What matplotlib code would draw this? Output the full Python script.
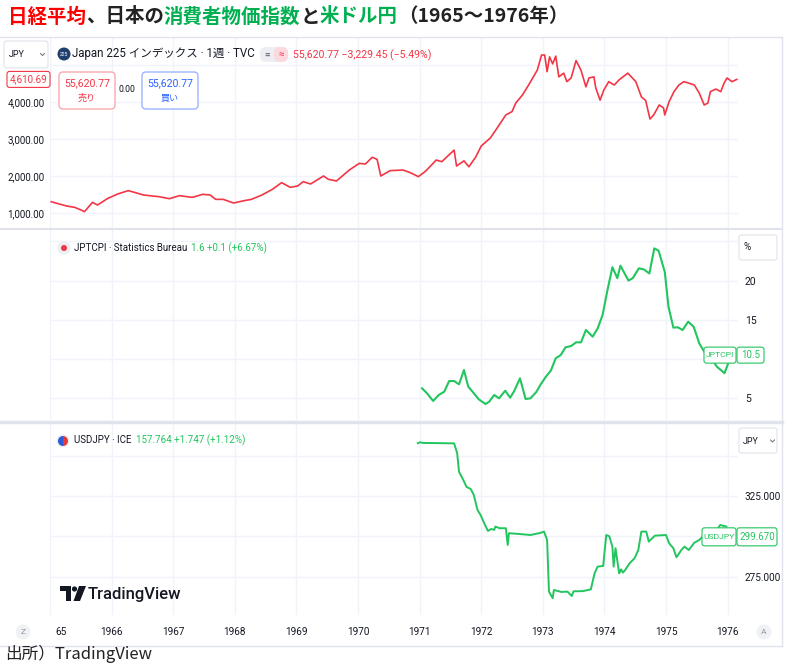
import matplotlib
matplotlib.use('Agg')
import matplotlib.pyplot as plt
import matplotlib.transforms as mtransforms
from matplotlib.patches import FancyBboxPatch, Circle, Polygon, Wedge

plt.rcParams['font.family'] = ['Roboto', 'Noto Sans CJK JP', 'DejaVu Sans']
JP = ['Noto Sans CJK JP', 'DejaVu Sans']

# ---- data ----
nk_year = [1965.02, 1965.15, 1965.27, 1965.40, 1965.48, 1965.56, 1965.69, 1965.77, 1965.94,
           1966.10, 1966.27, 1966.37, 1966.52, 1966.77, 1966.94, 1967.10, 1967.31, 1967.48,
           1967.60, 1967.69, 1967.81, 1967.98, 1968.15, 1968.27, 1968.44, 1968.61, 1968.76,
           1968.90, 1969.02, 1969.11, 1969.23, 1969.44, 1969.52, 1969.65, 1969.86, 1970.02,
           1970.12, 1970.23, 1970.31, 1970.37, 1970.52, 1970.73, 1970.85, 1970.98, 1971.10,
           1971.27, 1971.36, 1971.56, 1971.60, 1971.72, 1971.80, 1971.91, 1972.00, 1972.15,
           1972.26, 1972.40, 1972.50, 1972.56, 1972.67, 1972.77, 1972.91, 1972.98, 1973.03,
           1973.07, 1973.11, 1973.16, 1973.21, 1973.26, 1973.34, 1973.39, 1973.46, 1973.54,
           1973.62, 1973.70, 1973.75, 1973.83, 1973.86, 1973.93, 1973.99, 1974.07, 1974.16,
           1974.24, 1974.38, 1974.51, 1974.60, 1974.67, 1974.74, 1974.80, 1974.89, 1974.96,
           1974.98, 1975.05, 1975.13, 1975.21, 1975.29, 1975.37, 1975.46, 1975.54, 1975.62,
           1975.68, 1975.72, 1975.81, 1975.89, 1975.94, 1975.99, 1976.07, 1976.15]
nk_val = [1305, 1243, 1189, 1153, 1099, 1036, 1288, 1216, 1396,
          1514, 1604, 1559, 1486, 1441, 1387, 1468, 1423, 1505,
          1486, 1369, 1369, 1270, 1333, 1369, 1486, 1640, 1820,
          1694, 1730, 1847, 1784, 2000, 1910, 1865, 2162, 2342,
          2324, 2505, 2450, 2000, 2144, 2162, 2090, 1982, 2135,
          2432, 2387, 2700, 2270, 2410, 2250, 2510, 2810, 3030,
          3300, 3650, 3740, 3970, 4190, 4460, 4860, 5270, 5270,
          4820, 5220, 5030, 5240, 4680, 4780, 4550, 4650, 5120,
          4860, 4410, 4650, 4680, 4380, 4050, 4320, 4550, 4460,
          4600, 4780, 4550, 4140, 4040, 3540, 3650, 3920, 3840,
          3650, 4010, 4280, 4460, 4550, 4510, 4460, 4240, 3920,
          3970, 4280, 4350, 4280, 4500, 4650, 4550, 4611]

cpi_year = [1971.04, 1971.12, 1971.22, 1971.31, 1971.40, 1971.48, 1971.56, 1971.64, 1971.72,
            1971.79, 1971.86, 1971.96, 1972.07, 1972.13, 1972.21, 1972.29, 1972.39, 1972.47,
            1972.53, 1972.63, 1972.72, 1972.80, 1972.89, 1972.97, 1973.05, 1973.13, 1973.21,
            1973.29, 1973.37, 1973.46, 1973.54, 1973.62, 1973.70, 1973.81, 1973.89, 1973.97,
            1974.05, 1974.13, 1974.21, 1974.26, 1974.39, 1974.46, 1974.56, 1974.64, 1974.73,
            1974.81, 1974.88, 1974.98, 1975.04, 1975.12, 1975.19, 1975.27, 1975.36, 1975.45,
            1975.54, 1975.62, 1975.71, 1975.83, 1975.95, 1976.01]
cpi_val = [6.27, 5.64, 4.66, 5.42, 5.84, 7.2, 7.2, 6.78, 8.6,
           6.48, 5.84, 4.87, 4.27, 4.57, 5.42, 5.0, 5.97, 5.08,
           5.84, 7.55, 4.91, 5.0, 5.76, 6.82, 7.75, 8.52, 10.1,
           10.5, 11.5, 11.66, 12.13, 12.13, 13.7, 12.85, 13.9, 15.6,
           18.8, 21.7, 20.3, 21.9, 20.0, 20.3, 21.56, 21.43, 20.9,
           24.1, 23.8, 21.1, 16.67, 14.0, 14.05, 13.7, 14.76, 14.1,
           12.0, 10.94, 10.3, 9.0, 8.2, 9.46]

fx_year = [1970.97, 1971.01, 1971.05, 1971.56, 1971.61, 1971.64, 1971.71, 1971.76, 1971.83,
           1971.88, 1971.94, 1971.99, 1972.05, 1972.11, 1972.16, 1972.21, 1972.23, 1972.30,
           1972.40, 1972.43, 1972.45, 1972.60, 1972.80, 1972.95, 1973.02, 1973.07, 1973.10,
           1973.16, 1973.18, 1973.30, 1973.40, 1973.47, 1973.50, 1973.65, 1973.78, 1973.84,
           1973.89, 1973.98, 1974.03, 1974.08, 1974.13, 1974.15, 1974.18, 1974.24, 1974.27,
           1974.30, 1974.33, 1974.41, 1974.49, 1974.55, 1974.60, 1974.68, 1974.72, 1974.82,
           1975.00, 1975.05, 1975.12, 1975.17, 1975.25, 1975.30, 1975.37, 1975.46, 1975.54,
           1975.62, 1975.72, 1975.80, 1975.88, 1975.98]
fx_val = [357.7, 358.3, 357.9, 357.6, 351.5, 340.0, 334.9, 330.7, 329.3,
          325.6, 316.3, 313.2, 308.0, 303.3, 304.5, 304.0, 306.0, 305.0,
          305.0, 294.6, 301.9, 301.5, 300.8, 302.0, 302.9, 297.7, 265.7,
          261.6, 266.7, 265.5, 265.7, 263.0, 265.9, 266.0, 267.1, 277.0,
          281.2, 281.6, 300.8, 300.0, 293.6, 281.2, 292.6, 277.0, 279.5,
          277.5, 278.7, 283.3, 286.4, 291.5, 302.9, 302.9, 296.7, 300.4,
          300.8, 295.7, 292.6, 287.0, 291.5, 293.6, 291.5, 296.0, 297.7,
          300.8, 301.5, 302.5, 307.0, 306.0]

years = list(range(1965, 1977))
year_labels = ['65'] + [str(y) for y in range(1966, 1977)]
nk_ticks = [1000, 2000, 3000, 4000, 5000]
nk_ticklabels = ['1,000.00', '2,000.00', '3,000.00', '4,000.00', '']
cpi_ticks = [5, 10, 15, 20, 25]
cpi_ticklabels = ['5', '', '15', '20', '']
fx_ticks = [275, 300, 325, 350]
fx_ticklabels = ['275.000', '', '325.000', '']
nk_last, cpi_last, fx_last = 4610.69, 10.5, 299.670

title_parts = [('日経平均', '#ff0000'), ('、日本の', '#222222'), ('消費者物価指数', '#00b050'),
               ('と', '#222222'), ('米ドル円', '#00b050'), ('（1965～1976年）', '#222222')]

RED = '#f23645'
GREEN = '#22c55e'
TXT = '#131722'
GRID = '#f0f3fa'
BORDER = '#e0e3eb'

W, H = 800, 671
fig = plt.figure(figsize=(W / 100, H / 100), dpi=100)


def rect(x0, y0, x1, y1):
    return [x0 / W, 1 - y1 / H, (x1 - x0) / W, (y1 - y0) / H]


xlim = (1965.0, 1965 + 688 / 61.6)
ax1 = fig.add_axes(rect(50, 37, 738, 228))
ax2 = fig.add_axes(rect(50, 230, 738, 420))
ax3 = fig.add_axes(rect(50, 422, 738, 615))

for ax in (ax1, ax2, ax3):
    ax.set_xlim(*xlim)
    ax.set_xticks(years)
    ax.grid(True, color=GRID, lw=1)
    ax.set_axisbelow(True)
    ax.tick_params(axis='x', length=0, labelbottom=False)
    ax.tick_params(axis='y', length=0, labelsize=7, labelcolor=TXT)
    for s in ax.spines.values():
        s.set_visible(False)

ax1.set_ylim(594.6, 5757)
ax1.set_yticks(nk_ticks, nk_ticklabels)
ax1.tick_params(axis='y', pad=4)
ax1.plot(nk_year, nk_val, color=RED, lw=1.2)

ax2.set_ylim(2.236, 26.44)
ax2.yaxis.tick_right()
ax2.set_yticks(cpi_ticks, cpi_ticklabels)
ax2.tick_params(axis='y', pad=5, labelsize=7.5)
ax2.plot(cpi_year, cpi_val, color=GREEN, lw=1.5)

ax3.set_ylim(251.2, 370.86)
ax3.yaxis.tick_right()
ax3.set_yticks(fx_ticks, fx_ticklabels)
ax3.tick_params(axis='y', pad=5, labelsize=7.2)
ax3.plot(fx_year, fx_val, color=GREEN, lw=1.4)

# overlay in pixel units for the TradingView chrome
ov = fig.add_axes([0, 0, 1, 1])
ov.set_xlim(0, W)
ov.set_ylim(H, 0)
ov.axis('off')
ov.set_zorder(5)
renderer = fig.canvas.get_renderer()


def box(x, y, w, h, ec, fc='white', lw=0.8, r=2.5):
    ov.add_patch(FancyBboxPatch((x, y), w, h, boxstyle=f'round,pad=0,rounding_size={r}',
                                fc=fc, ec=ec, lw=lw))


def txt(x, y, s, **kw):
    kw.setdefault('va', 'center')
    kw.setdefault('color', TXT)
    return ov.text(x, y, s, **kw)


def end_of(t):
    return t.get_window_extent(renderer).x1


def py(ax, v):
    return H - ax.transData.transform((xlim[0], v))[1]


# title
tx = 8
for s, c in title_parts:
    t = txt(tx, 17, s, color=c, fontsize=14, fontweight='bold', family=JP)
    tx += t.get_window_extent(renderer).width

# frame
ov.plot([0, 782], [36.5, 36.5], color=BORDER, lw=1)
ov.plot([782, 782], [36.5, 646], color=BORDER, lw=1)
ov.plot([0, 782], [229, 229], color=BORDER, lw=1.5)
ov.plot([0, 782], [421.5, 421.5], color=BORDER, lw=2.5)
ov.plot([0, 782], [646, 646], color=BORDER, lw=1)

# header of panel 1
box(4, 41, 44, 27, BORDER)
txt(9, 54.5, 'JPY', fontsize=6.5)
ov.plot([40.5, 42.5, 44.5], [53.5, 55.5, 53.5], color='#787b86', lw=0.8)
ov.add_patch(Circle((64, 54), 6.5, fc='#1f3f6e'))
txt(64, 54.3, '225', fontsize=3.6, color='white', ha='center')
txt(72, 54, 'Japan 225 インデックス · 1週 · TVC', fontsize=8.3)
box(260, 47, 28, 15, 'none', fc='#eceef2', r=6)
box(274, 47, 14, 15, 'none', fc='#fbd9de', r=6)
txt(267, 54.5, '=', fontsize=7, color='#787b86', ha='center', fontweight='bold')
txt(281, 54.5, '≈', fontsize=7, color=RED, ha='center')
txt(293, 55, '55,620.77 \u22123,229.45 (\u22125.49%)', fontsize=7.6, color=RED)

y_nk = py(ax1, nk_last)
box(7, y_nk - 8, 43, 16, RED)
txt(28.5, y_nk, f'{nk_last:,.2f}', fontsize=7, color=RED, ha='center')

box(59, 72, 56, 37, '#f7a9b0', lw=1, r=4)
txt(87, 83, '55,620.77', fontsize=7.6, color=RED, ha='center')
txt(87, 98, '売り', fontsize=6.5, color=RED, ha='center')
txt(126.5, 89, '0.00', fontsize=6.2, ha='center')
box(142, 72, 56, 37, '#9db5ff', lw=1, r=4)
txt(170, 83, '55,620.77', fontsize=7.6, color='#2962ff', ha='center')
txt(170, 98, '買い', fontsize=6.5, color='#2962ff', ha='center')

# header of panel 2
ov.add_patch(Circle((64, 248), 6.5, fc='#eceef2'))
ov.add_patch(Circle((64, 248), 3, fc=RED))
t = txt(74, 248, 'JPTCPI · Statistics Bureau', fontsize=7)
txt(end_of(t) + 4, 248, '1.6 +0.1 (+6.67%)', fontsize=7, color=GREEN)
box(739, 235, 38, 25, BORDER)
txt(744, 247, '%', fontsize=7)

y_cpi = py(ax2, cpi_last)
box(704, y_cpi - 8, 32, 16, GREEN)
txt(720, y_cpi, 'JPTCPI', fontsize=6.1, color=GREEN, ha='center')
box(737, y_cpi - 8, 27, 16, GREEN)
txt(750.5, y_cpi, f'{cpi_last}', fontsize=7, color=GREEN, ha='center')

# header of panel 3
ov.add_patch(Circle((63, 441), 6.5, fc='#eceef2'))
ov.add_patch(Wedge((63, 441), 5, 90, 270, fc='#2a5bd7'))
ov.add_patch(Wedge((63, 441), 5, 270, 90, fc='#e53935'))
t = txt(74, 440, 'USDJPY · ICE', fontsize=7)
txt(end_of(t) + 5, 440, '157.764 +1.747 (+1.12%)', fontsize=7, color=GREEN)
box(739, 428, 38, 25, BORDER)
txt(743, 441, 'JPY', fontsize=6.5)
ov.plot([770.5, 772.5, 774.5], [440, 442, 440], color='#787b86', lw=0.8)

y_fx = py(ax3, fx_last)
box(702, y_fx - 9, 34, 18, GREEN)
txt(719, y_fx, 'USDJPY', fontsize=6.1, color=GREEN, ha='center')
box(737, y_fx - 9, 40, 18, GREEN)
txt(757, y_fx, f'{fx_last:.3f}', fontsize=7, color=GREEN, ha='center')

# TradingView logo
ov.add_patch(Polygon([(60, 586), (71, 586), (71, 601), (66, 601), (66, 591), (60, 591)],
                     closed=True, fc=TXT))
ov.add_patch(Circle((74.5, 589), 2.6, fc=TXT))
ov.add_patch(Polygon([(79, 586), (86, 586), (80, 601), (73.5, 601)], closed=True, fc=TXT))
txt(88, 594, 'TradingView', fontsize=12, fontweight='medium')

# time axis
tr = mtransforms.blended_transform_factory(ax3.transData, ov.transData)
for yr, lab in zip(years, year_labels):
    if lab == '65':
        ov.text(yr, 632, lab, transform=mtransforms.offset_copy(tr, fig=fig, x=5, units='dots'),
                ha='left', va='center', fontsize=7.2, color=TXT)
    else:
        ov.text(yr, 632, lab, transform=tr, ha='center', va='center', fontsize=7.2, color=TXT)
for cx, s in ((23, 'Z'), (764, 'A')):
    ov.add_patch(Circle((cx, 632), 7.5, fc='#f0f1f4'))
    txt(cx, 632, s, fontsize=6, color='#9598a1', ha='center')

txt(5, 654, '出所）TradingView', fontsize=12, color='#222222', family=JP)

fig.savefig('out.png', dpi=100)
